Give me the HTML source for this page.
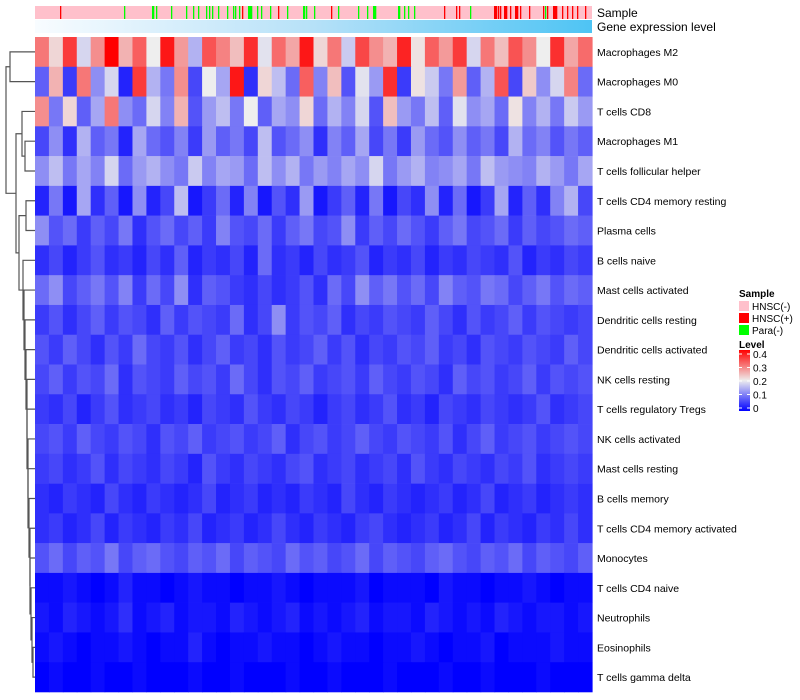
<!DOCTYPE html>
<html><head><meta charset="utf-8"><style>
html,body{margin:0;padding:0;background:#fff;}
svg{display:block;font-family:"Liberation Sans",Arial,sans-serif;}
</style></head><body>
<svg id="chart" width="800" height="700" viewBox="0 0 800 700">
<defs>
<linearGradient id="gexp" x1="0" x2="1" y1="0" y2="0"><stop offset="0" stop-color="#f8fcff"/><stop offset="0.5" stop-color="#b6e1f8"/><stop offset="1" stop-color="#4ec4f4"/></linearGradient>
<linearGradient id="lvl" x1="0" x2="0" y1="1" y2="0"><stop offset="0" stop-color="#0000ff"/><stop offset="0.5" stop-color="#eeeeee"/><stop offset="1" stop-color="#ff0000"/></linearGradient>
</defs>
<g id="dendro"></g>
<g id="annot"></g>
<rect x="35" y="20" width="557" height="13" fill="url(#gexp)"/>
<text x="597" y="17" font-size="12">Sample</text>
<text x="597" y="31" font-size="12">Gene expression level</text>
<g id="cells"></g>
<g id="labels"></g>
<g>
<text x="739" y="297" font-size="10" font-weight="bold">Sample</text>
<rect x="739" y="301" width="10" height="10" fill="#ffc0cb"/>
<text x="752" y="310" font-size="10">HNSC(-)</text>
<rect x="739" y="313" width="10" height="10" fill="#ff0000"/>
<text x="752" y="322" font-size="10">HNSC(+)</text>
<rect x="739" y="325" width="10" height="10" fill="#00ff00"/>
<text x="752" y="334" font-size="10">Para(-)</text>
<text x="739" y="348" font-size="10" font-weight="bold">Level</text>
<rect x="739" y="350" width="11" height="61" fill="url(#lvl)"/>
<g id="lvlticks"></g>
</g>
</svg>
<script>
const rowNames=["Macrophages M2","Macrophages M0","T cells CD8","Macrophages M1","T cells follicular helper","T cells CD4 memory resting","Plasma cells","B cells naive","Mast cells activated","Dendritic cells resting","Dendritic cells activated","NK cells resting","T cells regulatory  Tregs","NK cells activated","Mast cells resting","B cells memory","T cells CD4 memory activated","Monocytes","T cells CD4 naive","Neutrophils","Eosinophils","T cells gamma delta"];
// levels in units of 0.01
const rowM2=[30,22,35,18,28,40,25,32,20,38,27,15,33,29,24,36,19,31,26,38,22,30,17,34,28,25,37,21,32,27,35,18,30,24,33,28,20,36,26,31];
const rowM0=[8,25,5,30,12,18,3,35,15,10,28,6,20,14,38,4,22,16,9,32,11,24,7,19,13,36,5,21,17,10,27,8,15,33,6,23,12,18,29,9];
const rowCD8=[28,10,22,8,14,30,12,9,18,11,25,7,13,16,10,20,8,14,12,22,9,15,11,18,7,24,13,10,16,8,19,12,14,9,21,11,15,10,17,13];
const rowM1=[6,12,4,15,8,10,3,14,9,7,11,5,13,8,10,6,16,7,9,12,4,11,8,14,6,10,5,13,9,7,12,8,10,6,15,9,11,7,10,8];
const rowTfh=[12,16,10,14,11,18,9,13,15,12,10,17,11,14,13,9,16,12,15,10,13,11,14,12,18,10,13,15,11,12,14,10,16,13,12,11,15,13,10,14];
const rowCD4mr=[3,10,2,14,4,8,2,12,3,6,16,2,5,9,3,11,2,7,4,13,2,5,8,3,10,2,6,4,12,3,9,2,5,14,3,8,4,11,15,6];
const rowPlasma=[12,7,9,5,8,6,10,4,7,9,6,8,5,11,7,6,9,5,8,10,6,7,12,5,8,6,9,7,5,8,10,6,7,9,5,8,6,7,9,8];
const rowBn=[4,6,3,5,7,4,5,3,6,4,8,3,5,4,6,3,9,4,5,3,6,4,5,7,3,5,4,6,3,5,4,6,5,4,7,3,5,4,6,5];
const rowMastA=[9,12,6,8,10,7,11,5,9,6,12,4,8,7,5,4,6,4,5,7,4,9,6,12,8,10,7,9,6,11,8,7,10,9,6,8,10,7,9,8];
const rowDCr=[5,7,4,6,8,5,7,6,4,8,5,7,6,5,9,4,6,12,5,7,6,8,4,6,5,7,6,5,8,6,4,7,5,6,8,5,7,6,5,6];
const rowDCa=[7,5,8,6,4,7,5,9,6,5,7,4,6,8,5,6,4,7,5,6,8,5,7,4,6,5,7,6,8,5,6,4,7,6,5,7,6,5,8,6];
const rowNKr=[6,8,5,7,6,9,4,7,6,5,8,6,7,5,9,6,4,7,6,8,5,6,7,5,8,6,5,7,6,4,8,6,7,5,6,8,5,7,6,7];
const rowTreg=[5,4,6,3,5,7,4,5,6,4,5,3,6,5,4,7,5,4,6,5,3,5,6,4,5,7,4,5,3,6,5,4,6,5,4,5,7,4,5,6];
const rowNKa=[6,7,5,8,6,5,7,6,4,7,6,8,5,6,7,5,6,8,4,6,7,5,6,8,6,5,7,6,5,7,4,6,8,5,6,7,5,6,7,6];
const rowMastR=[5,6,4,5,7,4,6,5,4,6,5,3,7,5,4,6,5,4,6,7,4,5,6,4,5,6,4,7,5,4,6,5,4,6,5,7,4,5,6,5];
const rowBm=[4,3,5,4,3,6,4,3,5,4,3,4,6,3,4,5,3,4,3,5,4,3,6,4,3,5,4,3,4,5,3,4,6,3,4,5,3,4,5,4];
const rowCD4ma=[4,5,3,4,6,3,5,4,3,5,4,6,3,4,5,3,4,6,4,3,5,4,3,5,6,4,3,4,5,3,4,6,3,5,4,3,5,4,6,4];
const rowMono=[7,9,6,8,7,10,6,8,9,7,6,8,7,9,6,8,7,6,9,7,8,6,7,9,6,8,7,6,8,9,7,6,8,7,9,6,8,7,6,8];
const rowCD4n=[1,1,2,1,0,1,3,1,1,0,1,2,1,1,0,1,1,2,1,0,1,1,1,2,0,1,1,1,0,2,1,1,0,1,1,2,1,0,1,1];
const rowNeut=[2,1,3,2,1,2,4,1,2,3,1,2,2,1,3,2,1,2,3,1,2,1,2,3,1,2,2,1,3,2,1,2,1,3,2,1,2,2,1,2];
const rowEos=[1,2,1,0,1,1,2,1,0,1,1,3,1,0,1,1,2,1,1,0,1,2,1,1,0,1,1,2,1,0,1,1,2,0,1,1,1,2,1,1];
const rowGd=[0,1,0,0,1,0,0,1,0,0,0,1,0,0,1,0,0,0,1,0,0,1,0,0,0,1,0,0,0,1,0,0,1,0,0,0,1,0,0,0];
const levels=[rowM2,rowM0,rowCD8,rowM1,rowTfh,rowCD4mr,rowPlasma,rowBn,rowMastA,rowDCr,rowDCa,rowNKr,rowTreg,rowNKa,rowMastR,rowBm,rowCD4ma,rowMono,rowCD4n,rowNeut,rowEos,rowGd];
const sampleCount=557;
const plusIdx=[25,207,243,296,409,421,424,459,460,461,463,465,469,470,471,475,480,481,482,485,494,508,512,518,519,520,521,527,532,537,542,550];
const paraIdx=[89,117,118,121,136,151,158,163,171,174,177,183,192,198,200,204,213,214,215,216,222,226,235,252,268,269,271,279,303,323,332,338,339,340,363,364,369,373,379,435,510];
const levelTicks=[0,0.1,0.2,0.3,0.4];

const NS="http://www.w3.org/2000/svg";
const X0=35,X1=592,Y0=37,Y1=692;
const nCols=rowM2.length,nRows=levels.length;
const cw=(X1-X0)/nCols,rh=(Y1-Y0)/nRows;
function xScale(j){return X0+j*cw;}
function yScale(i){return Y0+i*rh;}
function sx(k){return X0+k*(X1-X0)/sampleCount;}
function color(v){
  v=Math.max(0,Math.min(0.4,v));
  let r,g,b;
  if(v<0.2){const t=v/0.2;r=238*t;g=238*t;b=255-17*t;}
  else{const t=(v-0.2)/0.2;r=238+17*t;g=238*(1-t);b=238*(1-t);}
  return `rgb(${r|0},${g|0},${b|0})`;
}
function mk(tag,attrs,parent){const e=document.createElementNS(NS,tag);for(const k in attrs)e.setAttribute(k,attrs[k]);parent.appendChild(e);return e;}

const cells=document.getElementById('cells');
levels.forEach((row,i)=>{
  row.forEach((v,j)=>{
    const r=mk('rect',{x:xScale(j),y:yScale(i),width:cw+0.6,height:rh+0.3,fill:color(v/100)},cells);
    
    
  });
});
const labels=document.getElementById('labels');
rowNames.forEach((n,i)=>{
  const t=mk('text',{x:597,y:yScale(i)+rh/2+4,'font-size':'10.5'},labels);
  t.textContent=n;
  
  
});
const annot=document.getElementById('annot');
const bg=mk('rect',{x:X0,y:6,width:X1-X0,height:13,fill:'#ffc0cb'},annot);


plusIdx.forEach(k=>{
  const r=mk('rect',{x:sx(k),y:6,width:1.3,height:13,fill:'#ff0000'},annot);
  
  
});
paraIdx.forEach(k=>{
  const r=mk('rect',{x:sx(k),y:6,width:1.3,height:13,fill:'#00ff00'},annot);
  
  
});
const lt=document.getElementById('lvlticks');
levelTicks.forEach(v=>{
  const y=408-v/0.4*54;
  const l=mk('line',{x1:739,x2:742,y1:y,y2:y,stroke:'#fff','stroke-width':1},lt);
  
  
  const l2=mk('line',{x1:747,x2:750,y1:y,y2:y,stroke:'#fff','stroke-width':1},lt);
  
  
  const t=mk('text',{x:753,y:y+4,'font-size':'10'},lt);
  t.textContent=String(v);
  
  
});
// dendrogram
const dg=document.getElementById('dendro');
const cy=i=>yScale(i)+rh/2;
function leaf(i){return {y:cy(i),x:35};}
function join(a,b,x){
  const p=mk('path',{d:`M${a.x},${a.y}H${x}V${b.y}H${b.x}`,fill:'none',stroke:'#555','stroke-width':1.2},dg);
  
  
  return {x:x,y:(a.y+b.y)/2};
}
const A=join(leaf(0),leaf(1),10);
const B=join(leaf(3),leaf(4),25);
const C=join(leaf(2),B,22);
let L=join(leaf(20),leaf(21),33);
const chainX=[32,31,30,30,29,28,28,27,27,26,25,24,23,23,21];
for(let i=19,k=0;i>=7;i--,k++){L=join(leaf(i),L,chainX[k]);}
const D=join(leaf(5),leaf(6),26);
L=join(D,L,19);
const E=join(C,L,16);
join(A,E,6);
</script>
</body></html>
